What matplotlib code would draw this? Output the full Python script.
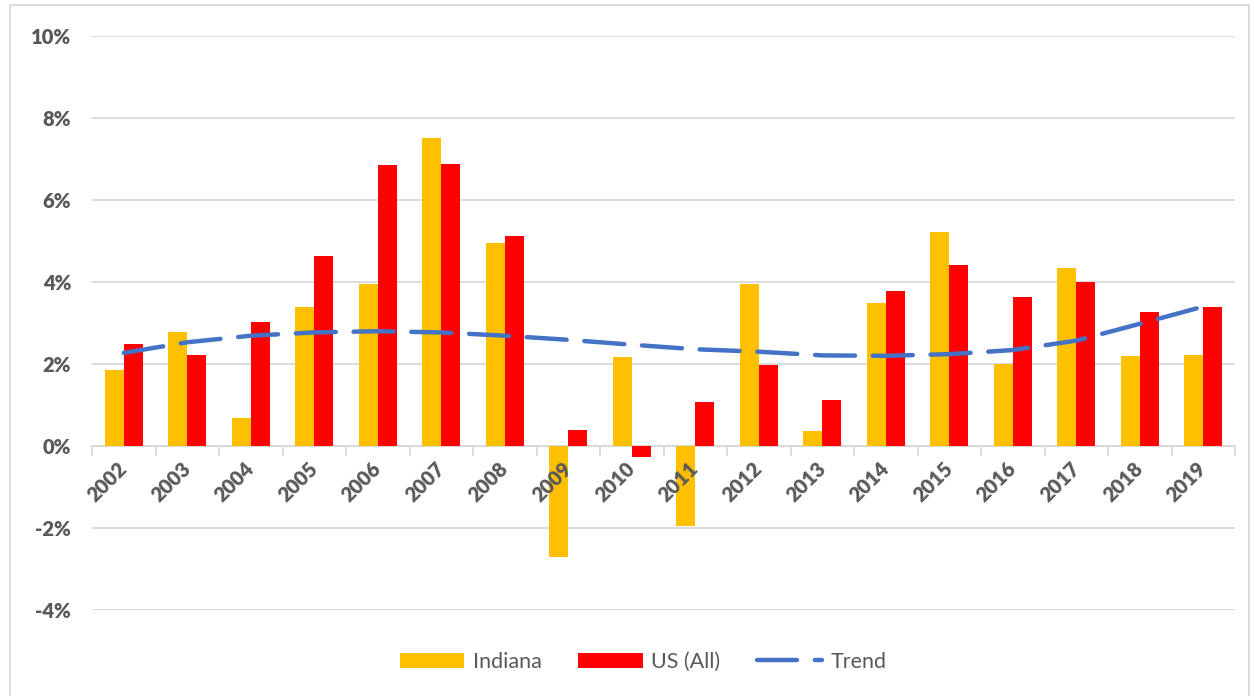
import numpy as np
import matplotlib
matplotlib.use('Agg')
import matplotlib.pyplot as plt
from matplotlib.lines import Line2D
from matplotlib.patches import Rectangle, Patch

years = ['2002', '2003', '2004', '2005', '2006', '2007', '2008', '2009', '2010',
         '2011', '2012', '2013', '2014', '2015', '2016', '2017', '2018', '2019']

# yearly change, percent
indiana = [1.85, 2.78, 0.68, 3.39, 3.95, 7.51, 4.95, -2.70, 2.17,
           -1.95, 3.94, 0.37, 3.49, 5.22, 1.99, 4.34, 2.19, 2.22]
us_all = [2.50, 2.22, 3.03, 4.63, 6.85, 6.88, 5.12, 0.40, -0.27,
          1.07, 1.97, 1.12, 3.77, 4.41, 3.63, 4.01, 3.28, 3.38]
trend = [2.27, 2.53, 2.69, 2.77, 2.80, 2.77, 2.69, 2.59, 2.47,
         2.36, 2.30, 2.21, 2.20, 2.24, 2.34, 2.57, 2.98, 3.40]

yticks = [-4, -2, 0, 2, 4, 6, 8, 10]

grey_txt = '#595959'
grid_c = '#D9D9D9'
plt.rcParams['font.family'] = ['Lato', 'DejaVu Sans']

x = np.arange(len(years))
width = 0.3

fig = plt.figure(figsize=(12.54, 6.96), dpi=100)
ax = fig.add_axes([92/1254, 1 - 610/696, (1235-92)/1254, (610-36)/696])

ax.bar(x - width/2, indiana, width, color='#FFC000', zorder=2, label='Indiana')
ax.bar(x + width/2, us_all, width, color='#FF0000', zorder=2, label='US (All)')
ax.plot(x, trend, color='#4472C4', lw=3.2, linestyle=(0, (9, 4)),
        dash_capstyle='round', zorder=3)

ax.set_xlim(-0.5, len(years) - 0.5)
ax.set_ylim(-4, 10)
ax.set_yticks(yticks)
ax.set_yticklabels([f'{v}%' for v in yticks], fontsize=14.5, fontweight='heavy', color=grey_txt)
ax.yaxis.grid(color=grid_c, linewidth=1.3, zorder=0)
ax.tick_params(axis='y', length=0, pad=15)

for s in ['top', 'right', 'left']:
    ax.spines[s].set_visible(False)
ax.spines['bottom'].set_position(('data', 0))
ax.spines['bottom'].set_color(grid_c)
ax.spines['bottom'].set_linewidth(1.3)
ax.spines['bottom'].set_zorder(1)

ax.set_xticks(x)
ax.set_xticklabels(years, rotation=45, ha='right', va='center', rotation_mode='anchor',
                   fontsize=14.5, fontweight='heavy', color=grey_txt)
ax.tick_params(axis='x', which='major', length=0, pad=14)
ax.set_xticks(np.arange(-0.5, len(years)), minor=True)
ax.tick_params(axis='x', which='minor', length=7, width=1.3, color=grid_c, direction='out')
ax.xaxis.set_zorder(4)  # year labels sit on top of the negative bars

legend_elements = [Patch(facecolor='#FFC000', label='Indiana'),
                   Patch(facecolor='#FF0000', label='US (All)'),
                   Line2D([0], [0], color='#4472C4', lw=3.2, linestyle=(0, (9, 4)),
                          dash_capstyle='round', label='Trend')]
leg = fig.legend(handles=legend_elements, loc='center', bbox_to_anchor=(643/1254, 1 - 662/696),
                 ncol=3, frameon=False, fontsize=15.5, handlelength=3.0, handletextpad=0.4,
                 columnspacing=1.7)
for t in leg.get_texts():
    t.set_color(grey_txt)

# chart border
fig.patches.append(Rectangle((10/1254, -0.02), (1249-10)/1254, 1 - 5/696 + 0.02,
                             transform=fig.transFigure, fill=False,
                             edgecolor=grid_c, linewidth=1.3))

plt.savefig('out.png', dpi=100)
